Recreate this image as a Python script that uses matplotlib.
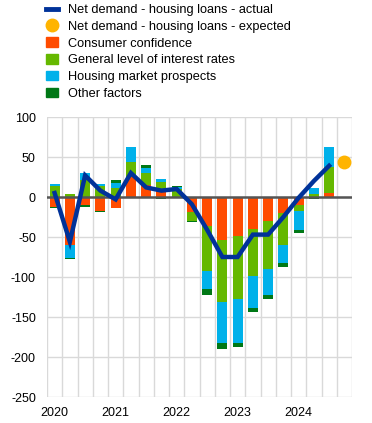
import numpy as np
import matplotlib
matplotlib.use("Agg")
import matplotlib.pyplot as plt
from matplotlib.lines import Line2D
from matplotlib.patches import Patch
from matplotlib.ticker import FixedLocator, FuncFormatter

plt.rcParams['font.family'] = ['Liberation Sans', 'DejaVu Sans']

quarters = ['2020Q1', '2020Q2', '2020Q3', '2020Q4',
            '2021Q1', '2021Q2', '2021Q3', '2021Q4',
            '2022Q1', '2022Q2', '2022Q3', '2022Q4',
            '2023Q1', '2023Q2', '2023Q3', '2023Q4',
            '2024Q1', '2024Q2', '2024Q3', '2024Q4']

consumer_confidence = [-12.5, -60, -10.5, -17.5, -13.5, 25, 15, 8, 0, -18.5,
                       -36, -54, -49, -40, -30, -20.5, -10.5, 0, 5]
interest_rates = [13.5, 3.5, 21, 13.5, 11.5, 19, 14.5, 11, 10.5, -11.5,
                  -56, -77, -79, -58.5, -60, -39.5, -7.5, 4, 33]
housing_prospects = [2.5, -16, 9, 3, 6, 19, 6.5, 3, 1.5, 0,
                     -23, -52, -55, -40, -32.5, -22, -23.5, 7, 25]
other_factors = [-1.2, -1.5, -2, -1.2, 3.5, 0, 3.5, -2, 1.5, -1,
                 -8, -7, -4, -5, -5, -5, -3.5, -3, 0]
net_demand_actual = [5, -56, 27, 8, -3, 30, 12, 8, 10, -9,
                     -41, -75, -75, -47, -47, -25, -1, 20, 39]
net_demand_expected = 44  # 2024Q4
year_labels = ['2020', '2021', '2022', '2023', '2024']

c_line = '#003299'
c_exp = '#FFB400'
c_cc = '#FF4B00'
c_ir = '#65B800'
c_hp = '#00B1EA'
c_of = '#007816'

W, H = 372, 423
fig = plt.figure(figsize=(W / 100, H / 100), dpi=100)
ax = fig.add_axes([47 / W, (H - 397) / H, (352 - 47) / W, (397 - 117) / H])

n = len(consumer_confidence)
x = np.arange(n)
series = [(consumer_confidence, c_cc), (interest_rates, c_ir),
          (housing_prospects, c_hp), (other_factors, c_of)]
pos_base = np.zeros(n)
neg_base = np.zeros(n)
bw = 0.65
for vals, col in series:
    v = np.array(vals, dtype=float)
    pos = np.where(v > 0, v, 0)
    neg = np.where(v < 0, v, 0)
    ax.bar(x, pos, bw, bottom=pos_base, color=col, zorder=2, linewidth=0)
    ax.bar(x, neg, bw, bottom=neg_base, color=col, zorder=2, linewidth=0)
    pos_base += pos
    neg_base += neg

ax.axhline(0, color='#555555', lw=1.8, zorder=3)
ax.plot(x, net_demand_actual, color=c_line, lw=3.2, zorder=4,
        solid_joinstyle='miter')
ax.plot([len(quarters) - 1], [net_demand_expected], 'o', color=c_exp,
        markersize=9, zorder=5)

ax.set_xlim(-0.5, len(quarters) - 0.5)
ax.set_ylim(-250, 100)
ax.set_yticks(np.arange(-250, 101, 50))
ax.yaxis.set_major_formatter(FuncFormatter(lambda v, p: f"{int(v)}".replace('\u2212', '-')))
ax.set_xticks([quarters.index(y + 'Q1') for y in year_labels])
ax.set_xticklabels(year_labels)
ax.xaxis.set_minor_locator(FixedLocator(np.arange(-0.5, len(quarters), 1)))
ax.grid(True, which='minor', axis='x', color='#d9d9d9', lw=1, zorder=0)
ax.grid(True, which='major', axis='y', color='#d9d9d9', lw=1, zorder=0)
ax.grid(False, which='major', axis='x')
ax.set_axisbelow(True)
for s in ax.spines.values():
    s.set_visible(False)
ax.tick_params(axis='both', which='both', length=0, labelsize=9, colors='black')
ax.tick_params(axis='x', pad=7)
ax.tick_params(axis='y', pad=8)

handles = [
    Line2D([0], [0], color=c_line, lw=3.5),
    Line2D([0], [0], marker='o', color=c_exp, lw=0, markersize=9),
    Patch(color=c_cc), Patch(color=c_ir), Patch(color=c_hp), Patch(color=c_of),
]
labels = ['Net demand - housing loans - actual',
          'Net demand - housing loans - expected',
          'Consumer confidence',
          'General level of interest rates',
          'Housing market prospects',
          'Other factors']
fig.legend(handles, labels, loc='upper left', bbox_to_anchor=(46 / W, 1 - 4 / H),
           frameon=False, fontsize=9.2, handlelength=0.9, handleheight=0.75,
           handletextpad=0.8, labelspacing=0.36, borderpad=0, borderaxespad=0)

fig.savefig('out.png', dpi=100)
